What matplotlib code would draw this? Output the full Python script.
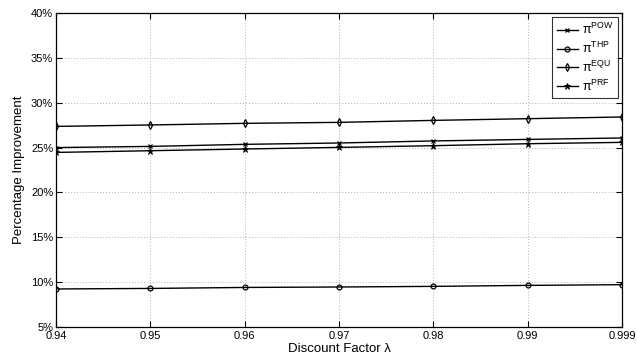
import matplotlib
matplotlib.use("Agg")
import matplotlib.pyplot as plt
import numpy as np

plt.rcParams['font.family'] = ['Liberation Sans', 'DejaVu Sans']
plt.rcParams['mathtext.fontset'] = 'custom'
plt.rcParams['mathtext.rm'] = 'Liberation Sans'
plt.rcParams['mathtext.it'] = 'Liberation Sans'

x_labels = ['0.94', '0.95', '0.96', '0.97', '0.98', '0.99', '0.999']
pow_vals = [25.0, 25.13, 25.36, 25.51, 25.74, 25.91, 26.07]
thp_vals = [9.24, 9.30, 9.41, 9.46, 9.53, 9.64, 9.72]
equ_vals = [27.36, 27.52, 27.70, 27.81, 28.03, 28.22, 28.41]
prf_vals = [24.46, 24.65, 24.84, 25.02, 25.21, 25.43, 25.58]
y_ticks = [5, 10, 15, 20, 25, 30, 35, 40]

fig = plt.figure(figsize=(6.37, 3.59), dpi=100)
ax = fig.add_axes([0.0879, 0.0891, 0.8886, 0.8747])

xs = np.arange(len(x_labels))
lw = 1.0
ax.plot(xs, pow_vals, color='k', lw=lw, marker='x', ms=3.5, mew=0.9, label=r'π$^{\rm POW}$')
ax.plot(xs, thp_vals, color='k', lw=lw, marker='o', ms=3.5, mfc='none', mew=0.9, label=r'π$^{\rm THP}$')
ax.plot(xs, equ_vals, color='k', lw=lw, marker='d', ms=4, mfc='none', mew=0.9, label=r'π$^{\rm EQU}$')
ax.plot(xs, prf_vals, color='k', lw=lw, marker='*', ms=5, mew=0.6, label=r'π$^{\rm PRF}$')

ax.set_xlim(0, len(x_labels) - 1)
ax.set_ylim(5, 40)
ax.set_xticks(xs)
ax.set_xticklabels(x_labels, fontsize=8)
ax.set_yticks(y_ticks)
ax.set_yticklabels([f'{v}%' for v in y_ticks], fontsize=8)
ax.tick_params(axis='x', direction='in', top=True, length=4, width=0.8, pad=3)
ax.tick_params(axis='y', direction='in', right=True, length=4, width=0.8, pad=2)
ax.grid(True, linestyle=(0, (1, 2.5)), color='#999999', lw=0.6)
for s in ax.spines.values():
    s.set_linewidth(0.9)

ax.set_xlabel('Discount Factor λ', fontsize=9.5, labelpad=1.5)
ax.set_ylabel('Percentage Improvement', fontsize=9.5, labelpad=4)

leg = ax.legend(loc='upper right', prop={'size': 9}, frameon=True, fancybox=False,
                edgecolor='k', handlelength=1.7, borderaxespad=0.35,
                labelspacing=0.3, handletextpad=0.3, borderpad=0.35)
leg.get_frame().set_linewidth(0.8)

fig.savefig('out.png', dpi=100)
